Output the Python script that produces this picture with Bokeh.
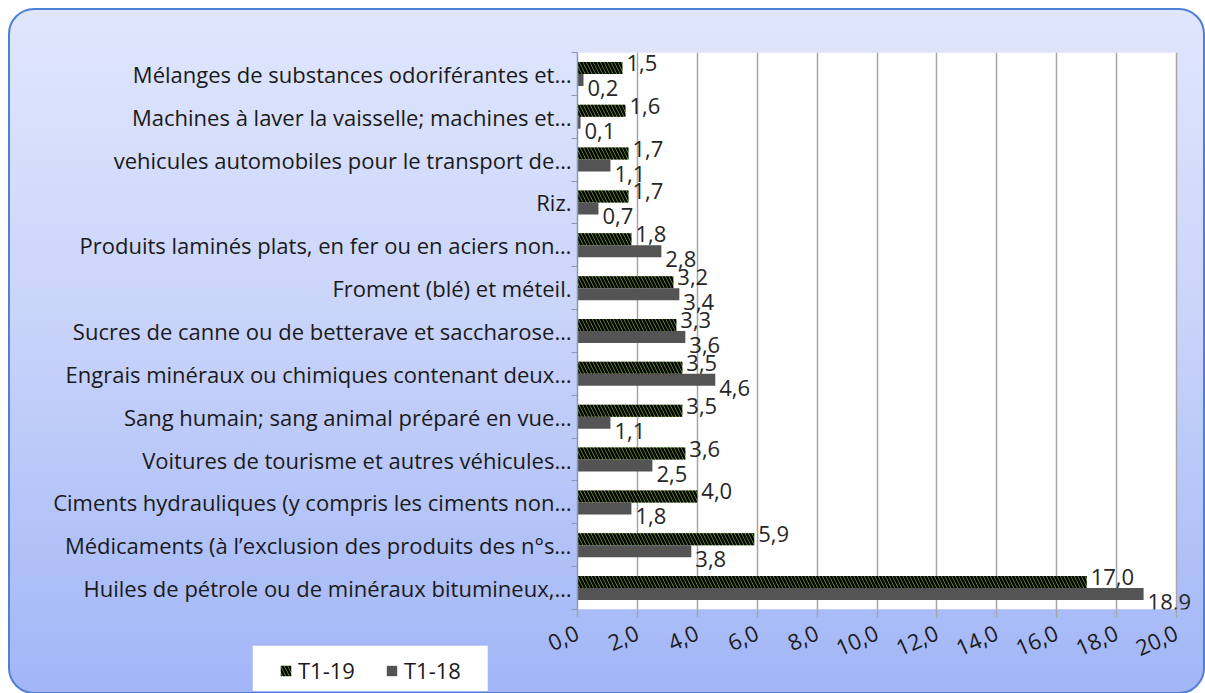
from bokeh.plotting import figure
from bokeh.layouts import column
from bokeh.models import FixedTicker, Legend, LegendItem, ColumnDataSource, LabelSet
from bokeh.core.properties import value
from bokeh.embed import file_html
from bokeh.resources import INLINE

# ---- data (top to bottom, as displayed) ----
categories = [
    "Mélanges de substances odoriférantes et…",
    "Machines à laver la vaisselle; machines et…",
    "vehicules automobiles pour le transport de…",
    "Riz.",
    "Produits laminés plats, en fer ou en aciers non…",
    "Froment (blé) et méteil.",
    "Sucres de canne ou de betterave et saccharose…",
    "Engrais minéraux ou chimiques contenant deux…",
    "Sang humain; sang animal préparé en vue…",
    "Voitures de tourisme et autres véhicules…",
    "Ciments hydrauliques (y compris les ciments non…",
    "Médicaments (à l’exclusion des produits des n°s…",
    "Huiles de pétrole ou de minéraux bitumineux,…",
]
t1_19 = [1.5, 1.6, 1.7, 1.7, 1.8, 3.2, 3.3, 3.5, 3.5, 3.6, 4.0, 5.9, 17.0]
t1_18 = [0.2, 0.1, 1.1, 0.7, 2.8, 3.4, 3.6, 4.6, 1.1, 2.5, 1.8, 3.8, 18.9]
x_ticks = [0, 2, 4, 6, 8, 10, 12, 14, 16, 18, 20]
x_tick_labels = ["0,0", "2,0", "4,0", "6,0", "8,0", "10,0", "12,0", "14,0", "16,0", "18,0", "20,0"]
series_names = ["T1-19", "T1-18"]

FONT = "Open Sans"
FS = "22px"
GREEN = "#6fa02c"
GREY = "#545454"
n = len(categories)
centers = [n - i - 0.5 for i in range(n)]
bounds = [float(k) for k in range(n + 1)]
half = 0.14

def fmt(v):
    return f"{v:.1f}".replace(".", ",")

src = ColumnDataSource(dict(
    y19=[c + half for c in centers],
    y18=[c - half for c in centers],
    v19=t1_19,
    v18=t1_18,
    l19=[fmt(v) for v in t1_19],
    l18=[fmt(v) for v in t1_18],
))

# x range extends a little past the last tick so that end labels are not clipped
p = figure(
    frame_width=625, frame_height=553,
    min_border_left=567, min_border_right=1, min_border_top=42, min_border_bottom=87,
    x_range=(x_ticks[0], x_ticks[-1] + 1), y_range=(0, n),
    output_backend="svg", toolbar_location=None,
    background_fill_color=None,
    border_fill_color=None,
    outline_line_color=None,
)
p.styles = {
    "background": "linear-gradient(to bottom, #e0e6fc 0%, #c9d4fa 45%, #a2b6f7 100%)",
    "border": "2px solid #4f7fd6",
    "border-radius": "26px",
    "margin": "8px 0 0 8px",
}

# white plot area (0 .. last tick)
p.quad(left=x_ticks[0], right=x_ticks[-1], bottom=0, top=n,
       fill_color="white", line_color=None, level="image")

HATCH = dict(fill_color=GREEN, line_color=None, hatch_pattern="left_diagonal_line",
             hatch_color="black", hatch_scale=7, hatch_weight=2.4)
r19 = p.hbar(y="y19", right="v19", left=0, height=0.28, source=src, **HATCH)
r18 = p.hbar(y="y18", right="v18", left=0, height=0.28, source=src,
             fill_color=GREY, line_color=None)

p.add_layout(LabelSet(x="v19", y="y19", text="l19", source=src, x_offset=4, y_offset=5,
                      text_font=value(FONT), text_font_size=value(FS), text_color="#262626",
                      text_align="left", text_baseline="middle"))
p.add_layout(LabelSet(x="v18", y="y18", text="l18", source=src, x_offset=4, y_offset=-8,
                      text_font=value(FONT), text_font_size=value(FS), text_color="#262626",
                      text_align="left", text_baseline="middle"))

# x axis
p.xaxis.ticker = FixedTicker(ticks=x_ticks)
p.xaxis.major_label_overrides = {t: s for t, s in zip(x_ticks, x_tick_labels)}
p.xaxis.major_label_orientation = 0.42
p.xaxis.major_label_text_font = FONT
p.xaxis.major_label_text_font_size = FS
p.xaxis.major_label_text_color = "#1a1a1a"
p.xaxis.major_label_standoff = 14
p.xaxis.major_tick_out = 8
p.xaxis.major_tick_in = 0
p.xaxis.minor_tick_out = 0
p.xaxis.minor_tick_in = 0
p.xaxis.axis_line_color = None
p.xaxis.major_tick_line_color = "#a6a6a6"
p.xaxis.major_tick_line_width = 1.5

# y axis
p.yaxis.ticker = FixedTicker(ticks=centers, minor_ticks=bounds)
p.yaxis.major_label_overrides = {c: s for c, s in zip(centers, categories)}
p.yaxis.major_label_text_font = FONT
p.yaxis.major_label_text_font_size = FS
p.yaxis.major_label_text_color = "#1a1a1a"
p.yaxis.major_label_standoff = 0
p.yaxis.major_tick_out = 0
p.yaxis.major_tick_in = 0
p.yaxis.minor_tick_out = 6
p.yaxis.minor_tick_in = 0
p.yaxis.minor_tick_line_color = "#8c96b4"
p.yaxis.axis_line_color = "#8c96b4"
p.yaxis.axis_line_width = 1.5

p.xgrid.ticker = FixedTicker(ticks=x_ticks)
p.xgrid.grid_line_color = "#a6a6a6"
p.xgrid.grid_line_width = 1.5
p.ygrid.grid_line_color = None

# ---- legend box (small figure overlapping the bottom of the chart) ----
lg = figure(width=236, height=46, x_range=(0, 1), y_range=(0, 1),
            x_axis_type=None, y_axis_type=None,
            output_backend="svg", toolbar_location=None,
            background_fill_color="white", border_fill_color="white",
            outline_line_color=None, min_border=0)
lg.grid.grid_line_color = None
lg.styles = {"margin-top": "-49px", "margin-left": "252px"}
# proxy glyphs (outside the visible range) that only carry the legend styling
proxy = ColumnDataSource(dict(y=[-5.0], right=[0.0]))
g19 = lg.hbar(y="y", right="right", left=0, height=0.1, source=proxy, **HATCH)
g18 = lg.hbar(y="y", right="right", left=0, height=0.1, source=proxy,
              fill_color=GREY, line_color=None)
legend = Legend(
    items=[LegendItem(label=series_names[0], renderers=[g19]),
           LegendItem(label=series_names[1], renderers=[g18])],
    orientation="horizontal",
    location=(27, 6),
    label_text_font=FONT, label_text_font_size=FS, label_text_color="#1a1a1a",
    glyph_width=13, glyph_height=13, label_standoff=6, spacing=30,
    padding=4, margin=0,
    background_fill_color="white", background_fill_alpha=1.0,
    border_line_color=None,
)
lg.add_layout(legend, "center")

layout = column(p, lg, spacing=0)
open("out.html", "w").write(file_html(layout, INLINE))
